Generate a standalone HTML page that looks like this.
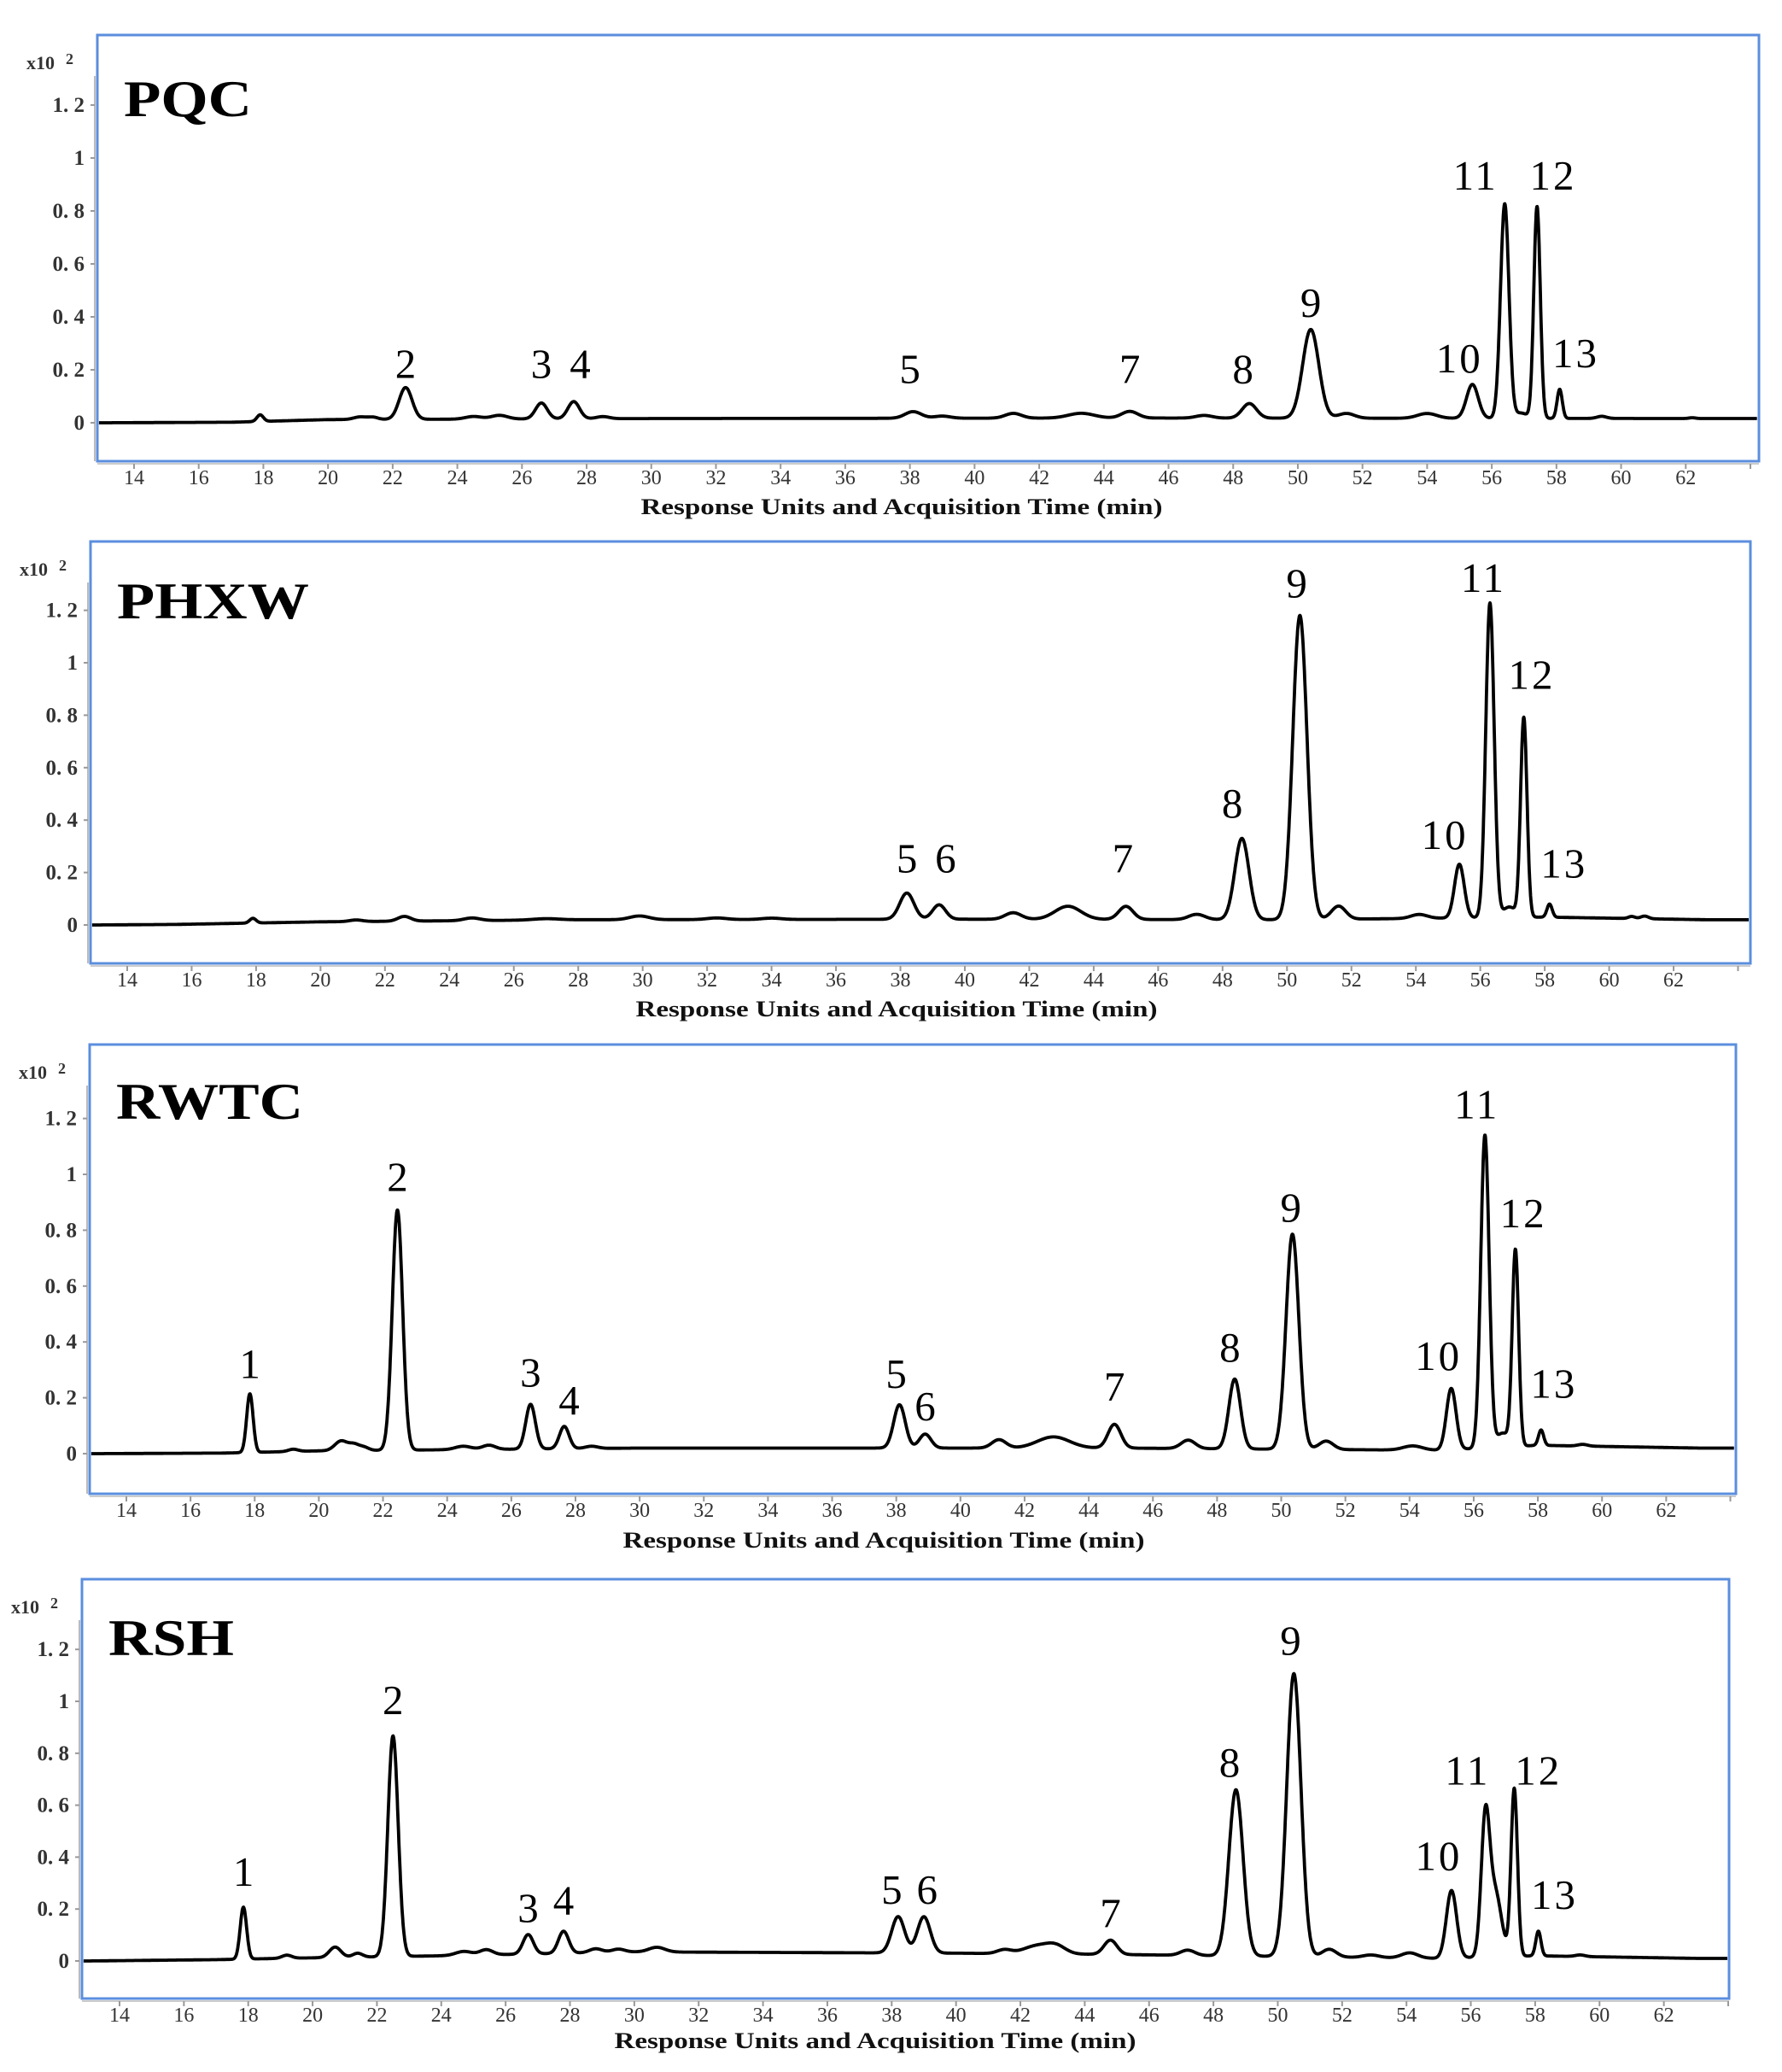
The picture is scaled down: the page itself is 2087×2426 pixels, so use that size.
<!DOCTYPE html>
<html><head><meta charset="utf-8">
<style>
html,body{margin:0;padding:0;background:#fff;}
svg{display:block;}
text{font-family:"Liberation Serif",serif;}
</style></head>
<body>
<svg id="s" width="2087" height="2426" viewBox="0 0 2087 2426" xmlns="http://www.w3.org/2000/svg"></svg>
<script>
const NS="http://www.w3.org/2000/svg";
const svg=document.getElementById('s');
function el(t,a,txt){const e=document.createElementNS(NS,t);for(const k in a)e.setAttribute(k,a[k]);if(txt!==undefined)e.textContent=txt;svg.appendChild(e);return e;}
const panels=[
 {name:"PQC",L:114,T:41,R:2060,B:540,y0:495,u:310,x14:157,pm:37.86,tw:150,tb:136,title:[1056,602],
  base:[[13,0],[17,0.002],[20,0.012],[30,0.016],[45,0.018],[63,0.016]],
  peaks:[[17.9,0.025,0.1],[21,0.01,0.2],[21.4,0.008,0.15],[22.4,0.12,0.2],[24.5,0.01,0.25],[25.3,0.014,0.25],[26.6,0.06,0.18],[27.6,0.065,0.18],[28.5,0.008,0.2],[38.1,0.025,0.25],[39,0.008,0.25],[41.2,0.018,0.25],[43.3,0.018,0.4],[44.8,0.025,0.25],[47.1,0.01,0.25],[48.5,0.055,0.22],[50.4,0.335,0.25],[51.5,0.018,0.25],[54,0.018,0.3],[55.4,0.128,0.18],[56.4,0.81,0.13],[56.9,0.02,0.2],[57.4,0.8,0.1],[58.1,0.11,0.08],[59.4,0.008,0.15],[62.2,0.003,0.1]],
  labels:[["2",22.4,0.17],["3",26.6,0.17],["4",27.8,0.17],["5",38.0,0.15],["7",44.8,0.15],["8",48.3,0.15],["9",50.4,0.4],["10",55.0,0.19],["11",55.5,0.88],["12",57.9,0.88],["13",58.6,0.21]]},
 {name:"PHXW",L:106,T:634,R:2050,B:1128,y0:1083,u:307,x14:149,pm:37.73,tw:225,tb:724,title:[1050,1190],
  base:[[13,0],[15.5,0.002],[20,0.012],[28,0.02],[40,0.022],[50,0.02],[58,0.03],[63,0.02]],
  peaks:[[17.9,0.018,0.1],[21.1,0.006,0.2],[22.6,0.018,0.2],[24.7,0.01,0.25],[27,0.005,0.4],[29.9,0.014,0.3],[32.3,0.006,0.3],[34,0.005,0.3],[38.2,0.1,0.22],[39.2,0.055,0.2],[41.5,0.025,0.25],[43.2,0.05,0.4],[45,0.05,0.22],[47.2,0.02,0.25],[48.6,0.31,0.22],[50.4,1.16,0.22],[51.6,0.05,0.22],[54.1,0.015,0.25],[55.35,0.205,0.15],[56.3,1.2,0.13],[56.9,0.04,0.2],[57.35,0.76,0.1],[58.15,0.05,0.08],[60.7,0.008,0.1],[61.1,0.01,0.12]],
  labels:[["5",38.2,0.2],["6",39.4,0.2],["7",44.9,0.2],["8",48.3,0.41],["9",50.3,1.25],["10",54.9,0.29],["11",56.1,1.27],["12",57.6,0.9],["13",58.6,0.18]]},
 {name:"RWTC",L:105,T:1223,R:2033,B:1749,y0:1702,u:327,x14:148,pm:37.57,tw:219,tb:1310,title:[1035,1812],
  base:[[13,0],[17,0.002],[20,0.01],[30,0.02],[45,0.02],[55,0.012],[58,0.03],[63,0.02]],
  peaks:[[17.85,0.21,0.1],[19.2,0.008,0.15],[20.7,0.035,0.2],[21.1,0.02,0.15],[21.4,0.012,0.15],[22.45,0.86,0.16],[24.5,0.012,0.25],[25.3,0.015,0.2],[26.6,0.16,0.15],[27.65,0.08,0.15],[28.5,0.008,0.2],[38.1,0.155,0.18],[38.9,0.05,0.18],[41.2,0.03,0.22],[42.9,0.04,0.5],[44.8,0.085,0.2],[47.1,0.03,0.22],[48.55,0.25,0.18],[50.35,0.77,0.2],[51.4,0.03,0.22],[54.1,0.015,0.3],[55.3,0.22,0.15],[56.35,1.12,0.13],[56.9,0.05,0.2],[57.3,0.7,0.1],[58.1,0.055,0.08],[59.4,0.006,0.15]],
  labels:[["1",17.85,0.27],["2",22.45,0.94],["3",26.6,0.24],["4",27.8,0.14],["5",38.0,0.235],["6",38.9,0.12],["7",44.8,0.19],["8",48.4,0.33],["9",50.3,0.83],["10",54.9,0.3],["11",56.1,1.2],["12",57.55,0.81],["13",58.5,0.2]]},
 {name:"RSH",L:96,T:1849,R:2025,B:2340,y0:2296,u:304,x14:140,pm:37.68,tw:147,tb:1938,title:[1025,2398],
  base:[[13,0],[17,0.005],[19,0.01],[24,0.02],[30,0.035],[40,0.03],[45,0.025],[55,0.01],[58,0.02],[63,0.01]],
  peaks:[[17.85,0.2,0.1],[19.2,0.012,0.15],[20.7,0.04,0.18],[21.4,0.015,0.15],[22.5,0.85,0.16],[24.7,0.015,0.25],[25.4,0.02,0.2],[26.7,0.075,0.16],[27.8,0.085,0.16],[28.8,0.015,0.2],[29.5,0.012,0.2],[30.7,0.018,0.25],[38.2,0.14,0.2],[39.0,0.14,0.2],[41.5,0.015,0.22],[42.5,0.03,0.4],[43.1,0.03,0.3],[44.8,0.055,0.2],[47.2,0.02,0.22],[48.7,0.64,0.22],[50.5,1.09,0.22],[51.6,0.03,0.22],[52.9,0.01,0.25],[54.1,0.02,0.25],[55.4,0.26,0.16],[56.45,0.5,0.13],[56.75,0.25,0.2],[57.35,0.645,0.1],[58.1,0.095,0.08],[59.4,0.006,0.15]],
  labels:[["1",17.85,0.29],["2",22.5,0.95],["3",26.7,0.15],["4",27.8,0.18],["5",38.0,0.22],["6",39.1,0.22],["7",44.8,0.13],["8",48.5,0.71],["9",50.4,1.18],["10",55.0,0.35],["11",55.9,0.68],["12",58.1,0.68],["13",58.6,0.2]]}
];
function baseAt(b,x){if(x<=b[0][0])return b[0][1];for(let i=0;i<b.length-1;i++){if(x>=b[i][0]&&x<=b[i+1][0]){const t=(x-b[i][0])/(b[i+1][0]-b[i][0]);return b[i][1]+t*(b[i+1][1]-b[i][1]);}}return b[b.length-1][1];}
panels.forEach(p=>{
  const X=m=>p.x14+(m-14)*p.pm, Y=v=>p.y0-v*p.u;
  el('line',{x1:p.L-3,y1:p.T+48,x2:p.L-3,y2:p.B,stroke:'#bbb','stroke-width':2});
  el('line',{x1:p.L,y1:p.B+3,x2:p.R,y2:p.B+3,stroke:'#ccc','stroke-width':2});
  const yl=["0","0. 2","0. 4","0. 6","0. 8","1","1. 2"];
  yl.forEach((t,i)=>{const y=Y(i*0.2);
    el('line',{x1:p.L-8,y1:y,x2:p.L-3,y2:y,stroke:'#999','stroke-width':2});
    el('text',{x:p.L-15,y:y+8,'text-anchor':'end','font-size':25,'font-weight':'bold',fill:'#333'},t);});
  el('text',{x:p.L-83,y:p.T+40,'font-size':22,fill:'#333','font-weight':'bold'},"x10");
  el('text',{x:p.L-37,y:p.T+34,'font-size':18,fill:'#333','font-weight':'bold'},"2");
  for(let m=14;m<=62;m+=2){const x=X(m);
    el('line',{x1:x,y1:p.B+3,x2:x,y2:p.B+9,stroke:'#999','stroke-width':2});
    el('text',{x:x,y:p.B+27,'text-anchor':'middle','font-size':24,fill:'#333'},String(m));}
  el('line',{x1:X(64),y1:p.B+3,x2:X(64),y2:p.B+9,stroke:'#999','stroke-width':2});
  el('text',{x:p.title[0],y:p.title[1],'text-anchor':'middle','font-size':26,'font-weight':'bold',fill:'#111',textLength:611,lengthAdjust:'spacingAndGlyphs'},"Response Units and Acquisition Time (min)");
  let d="";
  const x0=(p.L-p.x14)/p.pm+14, x1=(p.R-p.x14)/p.pm+14;
  for(let m=x0+0.05;m<=x1-0.05;m+=0.01){
    let v=baseAt(p.base,m);
    p.peaks.forEach(k=>{const z=(m-k[0])/k[2];v+=k[1]*Math.exp(-0.5*z*z);});
    d+=(d?"L":"M")+X(m).toFixed(1)+" "+Y(v).toFixed(1);
  }
  el('path',{d:d,fill:'none',stroke:'#000','stroke-width':3.8,'stroke-linejoin':'round'});
  el('rect',{x:p.L,y:p.T,width:p.R-p.L,height:p.B-p.T,fill:'none',stroke:'#5b8ede','stroke-width':3});
  el('text',{x:p.L+31,y:p.tb,'font-size':60,'font-weight':'bold',fill:'#000',textLength:p.tw,lengthAdjust:'spacingAndGlyphs'},p.name);
  p.labels.forEach(l=>{
    const a={x:X(l[1]),y:Y(l[2]),'text-anchor':'middle','font-size':49,fill:'#000'};
    if(l[0].length>1){a['letter-spacing']=3;}
    el('text',a,l[0]);});
});
</script>
</body></html>
